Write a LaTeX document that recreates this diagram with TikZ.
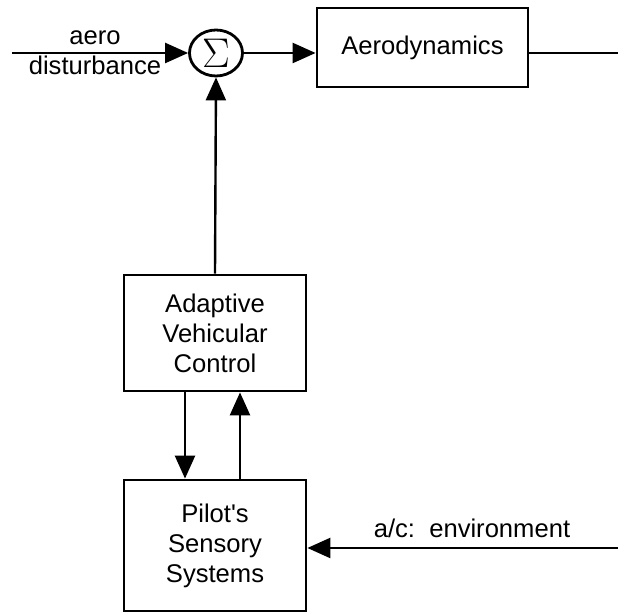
\documentclass[tikz,border=0pt]{standalone}
\usepackage{fontspec}
\setmainfont{Liberation Sans}
\usetikzlibrary{arrows.meta,shapes.geometric}

\begin{document}
\begin{tikzpicture}[x=0.5pt, y=-0.5pt,
    block/.style = {draw, line width=1.4pt, align=center, font=\fontsize{12.8}{15}\selectfont},
    sum/.style = {draw, ellipse, line width=1.4pt, minimum width=26.5pt, minimum height=23pt, inner sep=0pt},
    line/.style = {line width=1.2pt},
    arr/.style = {line width=1.2pt, -{Triangle[length=11.5pt,width=10pt]}},
    lbl/.style = {font=\fontsize{12.8}{15}\selectfont}]
                        \useasboundingbox (0,0) rectangle (618,613);

                        \node[sum] (S) at (216,53) {\fontsize{20}{20}\selectfont$\Sigma$};
                        \node[block, minimum width=105.5pt, minimum height=39.5pt] (AD) at (422.5,47.5) {Aerodynamics};
                        \node[block, minimum width=91pt, minimum height=58pt] (AVC) at (215,333) {Adaptive\\Vehicular\\Control};
                        \node[block, minimum width=91pt, minimum height=65.5pt] (PSS) at (215,545.5) {Pilot\textquotesingle s\\Sensory\\Systems};

                        \coordinate (IN) at (12,53);
                        \coordinate (OUT) at (618,53);
                        \coordinate (ENV) at (618,548);

                        \node[lbl, anchor=base] (aero) at (95,45) {aero};
                        \node[lbl, anchor=base] (dist) at (95,75) {disturbance};
                        \node[lbl, anchor=base] (env) at (472,538) {a/c:\ \ environment};

                        \draw[arr] (IN) -- (S);
                        \draw[arr] (S.east) -- (S.east -| AD.west);
                        \draw[line] (AD.east |- OUT) -- (OUT);
                        \draw[arr] (AVC.north) -- (S.south);
                        \draw[arr] ([xshift=-15pt]AVC.south) -- ([xshift=-15pt]PSS.north);
                        \draw[arr] ([xshift=12.5pt]PSS.north) -- ([xshift=12.5pt]AVC.south);
                        \draw[arr] (ENV) -- (ENV -| PSS.east);
                    \end{tikzpicture}
\end{document}
